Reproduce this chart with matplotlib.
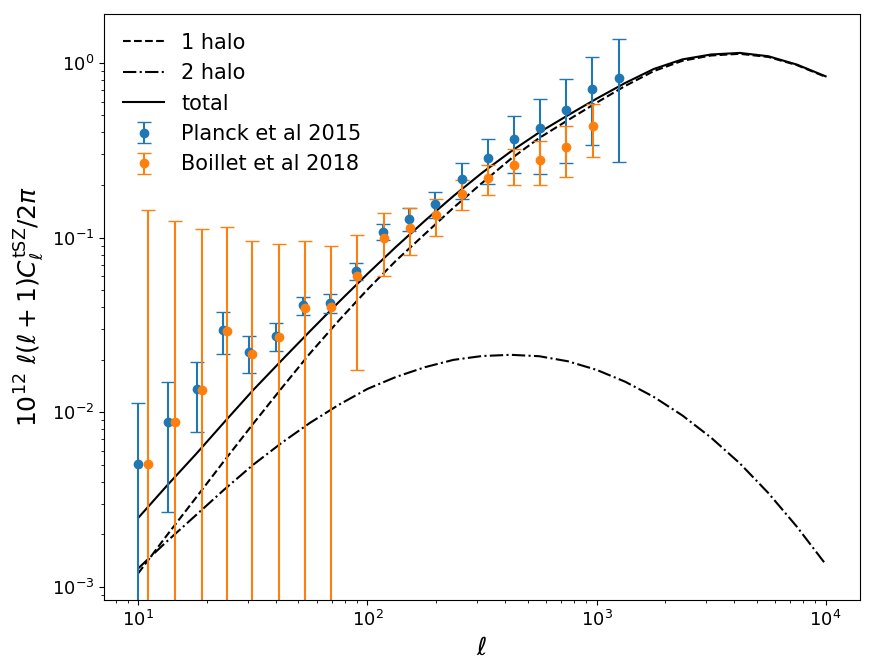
import matplotlib
matplotlib.use("Agg")
import matplotlib.pyplot as plt

ell_model = [10, 13.3, 17.8, 23.7, 31.6, 42.2, 56.2, 75, 100, 133, 178, 237,
             316, 422, 562, 750, 1000, 1334, 1778, 2371, 3162, 4217, 5623,
             7499, 10000]

# 10^12 l(l+1)C_l/2pi for each model component
cl_1h = [0.0012, 0.00197, 0.00323, 0.00527, 0.00855, 0.01374, 0.02178,
         0.0335, 0.0504, 0.0736, 0.1047, 0.1479, 0.2051, 0.2818, 0.3715,
         0.4699, 0.5916, 0.7379, 0.8974, 1.028, 1.102, 1.127, 1.081, 0.9705,
         0.8318]
cl_2h = [0.00128, 0.00182, 0.00257, 0.00361, 0.00499, 0.00668, 0.00871,
         0.01104, 0.01361, 0.01592, 0.01811, 0.01995, 0.02099, 0.02133,
         0.02094, 0.01959, 0.0175, 0.01496, 0.01225, 0.00959, 0.00716,
         0.00511, 0.00345, 0.00221, 0.00135]
cl_tot = [0.00249, 0.00379, 0.00574, 0.00877, 0.01334, 0.01982, 0.02917,
          0.04276, 0.06194, 0.08831, 0.1247, 0.1726, 0.2344, 0.3105, 0.3999,
          0.5012, 0.6237, 0.7674, 0.9226, 1.0471, 1.1169, 1.1402, 1.0914,
          0.9772, 0.8375]

# Planck 2015 tSZ spectrum
ell_planck = [10, 13.5, 18, 23.5, 30.5, 40, 52.5, 68.5, 89.5, 117, 152.5, 198,
              257.5, 335.5, 436.5, 567.5, 738, 959.5, 1247.5]
cl_planck = [0.00507, 0.00878, 0.01356, 0.0296, 0.0220, 0.0274, 0.0410,
             0.0425, 0.0645, 0.108, 0.128, 0.156, 0.217, 0.286, 0.367, 0.425,
             0.538, 0.710, 0.820]
err_planck = [0.0063, 0.0061, 0.0058, 0.0079, 0.0053, 0.0049, 0.0048, 0.0053,
              0.0070, 0.011, 0.019, 0.026, 0.050, 0.083, 0.132, 0.195, 0.27,
              0.37, 0.55]

# Boillet 2018
ell_boillet = [11, 14.5, 19, 24.5, 31.5, 41, 53.5, 69.5, 90.5, 118, 153.5,
               199, 258.5, 336.5, 437.5, 568.5, 739, 960.5]
cl_boillet = [0.00507, 0.00878, 0.0134, 0.0292, 0.0216, 0.0268, 0.0396,
              0.0399, 0.0604, 0.0992, 0.1132, 0.1343, 0.178, 0.219, 0.260,
              0.279, 0.330, 0.436]
err_boillet = [0.138, 0.115, 0.098, 0.0855, 0.074, 0.065, 0.056, 0.0494,
               0.043, 0.039, 0.034, 0.032, 0.035, 0.043, 0.060, 0.078, 0.108,
               0.145]


def main() -> None:
    fig = plt.figure(figsize=(8.7, 6.62), dpi=100)
    ax = fig.add_axes([0.1195, 0.0937, 0.869, 0.8852])

    ax.plot(ell_model, cl_1h, "k--", lw=1.5, label="1 halo")
    ax.plot(ell_model, cl_2h, "k-.", lw=1.5, label="2 halo")
    ax.plot(ell_model, cl_tot, "k-", lw=1.5, label="total")

    ax.errorbar(ell_planck, cl_planck, yerr=err_planck, fmt="o", capsize=5,
                color="tab:blue", label="Planck et al 2015")
    ax.errorbar(ell_boillet, cl_boillet, yerr=err_boillet, fmt="o", capsize=5,
                color="tab:orange", label="Boillet et al 2018")

    ax.set_xscale("log")
    ax.set_yscale("log")
    ax.set_xlim(7.08, 14125)
    ax.set_ylim(8.43e-4, 1.905)

    ax.set_xlabel(r"$\ell$", fontsize=18)
    ax.set_ylabel(r"$10^{12}\ \ell(\ell+1)C_\ell^{\rm tSZ}/2\pi$", fontsize=18)
    ax.tick_params(axis="both", which="major", labelsize=13)
    ax.legend(loc="upper left", frameon=False, fontsize=15)

    fig.savefig("out.png", dpi=100)


if __name__ == "__main__":
    main()
